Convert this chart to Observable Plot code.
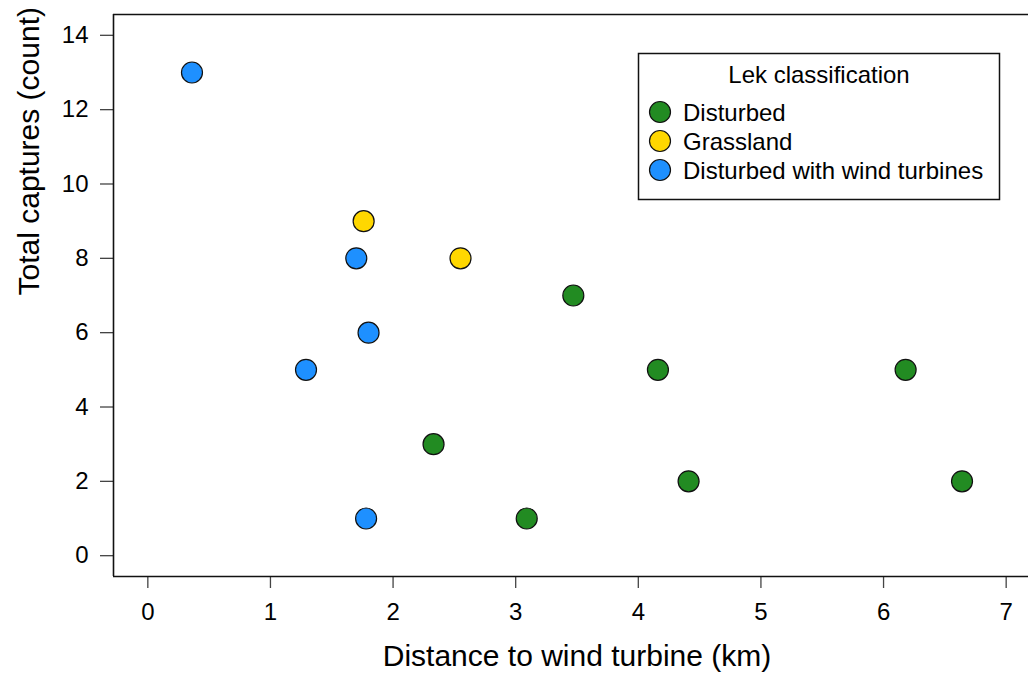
<!DOCTYPE html>
<html>
<head>
<meta charset="utf-8">
<script src="https://cdn.jsdelivr.net/npm/d3@7"></script>
<script src="https://cdn.jsdelivr.net/npm/@observablehq/plot@0.6"></script>
<style>
  html, body { margin: 0; padding: 0; background: #fff; overflow: hidden; }
  #wrap { position: relative; width: 1028px; height: 673px; }
  #wrap svg.plot-svg { position: absolute; left: 0; top: 0; }
  #legend { position: absolute; left: 0; top: 0; }
</style>
</head>
<body>
<div id="wrap"></div>
<script>
// ---- data ----
const categories = ["Disturbed", "Grassland", "Disturbed with wind turbines"];
const categoryColors = ["#228B22", "#FFD700", "#1E90FF"];

const disturbedDistance = [2.33, 3.09, 3.47, 4.16, 4.41, 6.18, 6.64];
const disturbedCaptures = [3, 1, 7, 5, 2, 5, 2];

const grasslandDistance = [1.76, 2.55];
const grasslandCaptures = [9, 8];

const windDistance = [0.36, 1.29, 1.70, 1.80, 1.78];
const windCaptures = [13, 5, 8, 6, 1];

const xTicks = [0, 1, 2, 3, 4, 5, 6, 7];
const yTicks = [0, 2, 4, 6, 8, 10, 12, 14];
const xLim = [-0.28, 7.28];
const yLim = [-0.56, 14.56];

const xTitle = "Distance to wind turbine (km)";
const yTitle = "Total captures (count)";
const legendTitle = "Lek classification";

// ---- table ----
const points = [];
disturbedDistance.forEach((d, i) => points.push({distance: d, captures: disturbedCaptures[i], cls: categories[0]}));
grasslandDistance.forEach((d, i) => points.push({distance: d, captures: grasslandCaptures[i], cls: categories[1]}));
windDistance.forEach((d, i) => points.push({distance: d, captures: windCaptures[i], cls: categories[2]}));

const font = "'Liberation Sans', Arial, sans-serif";

const chart = Plot.plot({
  width: 1028,
  height: 673,
  marginLeft: 113,
  marginRight: 0,
  marginTop: 14,
  marginBottom: 97,
  style: {fontFamily: font, background: "#fff", color: "#000", overflow: "hidden"},
  x: {domain: xLim, range: [113, 1040]},
  y: {domain: yLim, range: [576, 14]},
  color: {domain: categories, range: categoryColors},
  marks: [
    Plot.axisX({ticks: xTicks, tickSize: 12, tickPadding: 14, fontSize: 24, label: null, stroke: "#444", strokeWidth: 1.3, tickFormat: d => String(d)}),
    Plot.axisY({ticks: yTicks, tickSize: 13, tickPadding: 12, fontSize: 24, label: null, stroke: "#444", strokeWidth: 1.3, tickFormat: d => String(d)}),
    Plot.ruleY([yLim[0], yLim[1]], {stroke: "#111", strokeWidth: 1.6}),
    Plot.ruleX([xLim[0]], {stroke: "#111", strokeWidth: 1.6}),
    Plot.dot(points, {x: "distance", y: "captures", fill: "cls", r: 10.5, stroke: "#111", strokeWidth: 1.2}),
    Plot.text([xTitle], {frameAnchor: "bottom", text: d => d, fontSize: 30, dy: 89, dx: 6, lineAnchor: "bottom", fill: "#000"}),
    Plot.text([yTitle], {frameAnchor: "left", text: d => d, fontSize: 30, dx: -75, rotate: -90, lineAnchor: "bottom", fill: "#000"})
  ]
});
chart.classList.add("plot-svg");
document.getElementById("wrap").appendChild(chart);

// ---- legend (overlay) ----
const lg = d3.select("#wrap").append("svg")
  .attr("id", "legend")
  .attr("width", 1028).attr("height", 673)
  .style("pointer-events", "none")
  .style("font-family", font);
const box = {x: 638.5, y: 53.5, w: 361, h: 146};
lg.append("rect").attr("x", box.x).attr("y", box.y).attr("width", box.w).attr("height", box.h)
  .attr("fill", "#fff").attr("stroke", "#111").attr("stroke-width", 1.5);
lg.append("text").attr("x", box.x + box.w / 2).attr("y", 83).attr("text-anchor", "middle")
  .attr("font-size", 24).text(legendTitle);
categories.forEach((c, i) => {
  const cy = 112 + i * 29;
  lg.append("circle").attr("cx", 660).attr("cy", cy).attr("r", 10.5)
    .attr("fill", categoryColors[i]).attr("stroke", "#111").attr("stroke-width", 1.2);
  lg.append("text").attr("x", 683).attr("y", cy + 9).attr("font-size", 24).text(c);
});
</script>
</body>
</html>
